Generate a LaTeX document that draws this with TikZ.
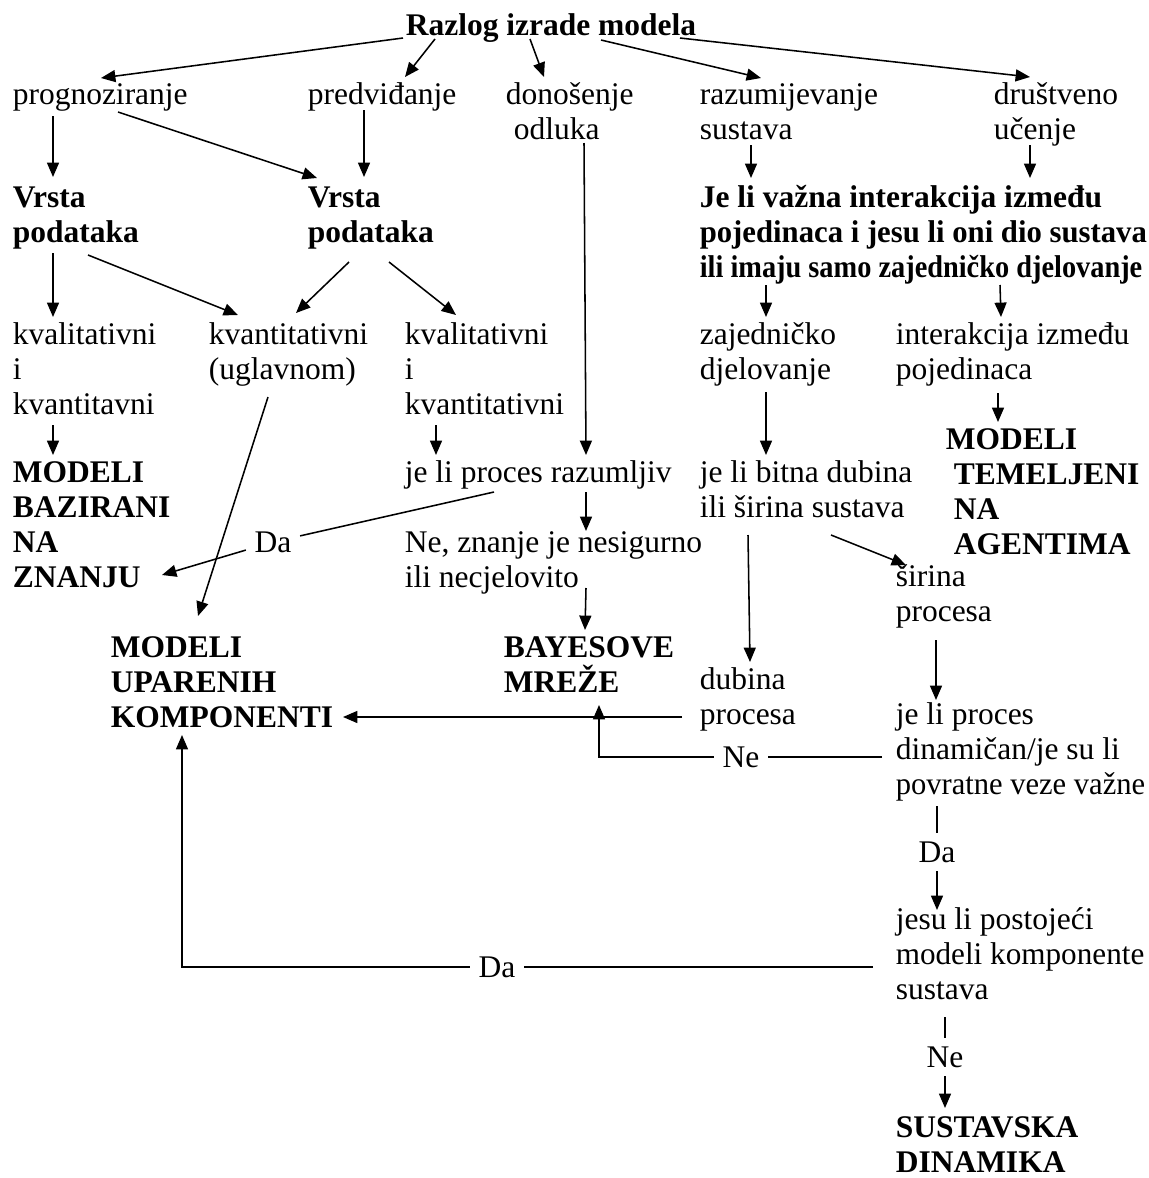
\documentclass[tikz,border=0pt]{standalone}
\usepackage{graphicx}
\usepackage{fontspec}
\setmainfont{Liberation Serif}
\usetikzlibrary{arrows.meta,calc}
\newcommand{\squeezed}[2]{\scalebox{#1}[1]{#2}}

\begin{document}
\begin{tikzpicture}[x=0.025cm,y=-0.025cm,->,>={Triangle[length=0.36cm,width=0.3cm]},
  line width=1.1pt,
  text node/.style={anchor=base west,inner sep=0pt,text width=15cm,align=flush left,font=\fontsize{22.4}{24.9}\selectfont},
  bold node/.style={text node,font=\fontsize{22.4}{24.9}\selectfont\bfseries},
  answer node/.style={inner sep=0.2cm,font=\fontsize{22.4}{24.9}\selectfont}]
  \useasboundingbox (0,0) rectangle (1149,1178);
  \node[bold node] (razlog) at (405,35) {Razlog izrade modela};
  \node[text node] (prog) at (12,104) {prognoziranje};
  \node[text node] (pred) at (307,104) {predviđanje};
  \node[text node] (donos) at (505,104) {donošenje\\\hspace*{0.2cm}odluka};
  \node[text node] (razum) at (699,104) {razumijevanje\\sustava};
  \node[text node] (drust) at (993,104) {društveno\\učenje};
  \node[bold node] (vrsta1) at (12,207) {Vrsta\\podataka};
  \node[bold node] (vrsta2) at (307,207) {Vrsta\\podataka};
  \node[bold node] (vazna) at (699,207) {Je li važna interakcija između\\\squeezed{0.975}{pojedinaca i jesu li oni dio sustava}\\\squeezed{0.9}{ili imaju samo zajedničko djelovanje}};
  \node[text node] (kval1) at (12,344) {kvalitativni\\i\\kvantitavni};
  \node[text node] (kvant) at (208,344) {kvantitativni\\(uglavnom)};
  \node[text node] (kval2) at (404,344) {kvalitativni\\i\\kvantitativni};
  \node[text node] (zajed) at (699,344) {zajedničko\\djelovanje};
  \node[text node] (inter) at (895,344) {interakcija između\\pojedinaca};
  \node[bold node] (magent) at (945,449) {MODELI\\\hspace*{0.2cm}TEMELJENI\\\hspace*{0.2cm}NA\\\hspace*{0.2cm}AGENTIMA};
  \node[bold node] (mbaz) at (12,482) {MODELI\\BAZIRANI\\NA\\ZNANJU};
  \node[text node] (razumlj) at (404,482) {je li proces razumljiv};
  \node[text node] (bitna) at (699,482) {je li bitna dubina\\ili širina sustava};
  \node[text node] (neznanje) at (404,552) {Ne, znanje je nesigurno\\ili necjelovito};
  \node[text node] (sirina) at (895,586) {širina\\procesa};
  \node[bold node] (mupar) at (110,657) {MODELI\\UPARENIH\\KOMPONENTI};
  \node[bold node] (bayes) at (503,657) {BAYESOVE\\MREŽE};
  \node[text node] (dubina) at (699,689) {dubina\\procesa};
  \node[text node] (dinam) at (895,724) {je li proces\\dinamičan/je su li\\\squeezed{0.97}{povratne veze važne}};
  \node[text node] (postoj) at (895,929) {jesu li postojeći\\\squeezed{0.99}{modeli komponente}\\sustava};
  \node[bold node] (sdin) at (895,1137) {SUSTAVSKA\\DINAMIKA};
  \node[answer node] (da1) at (273,542) {Da};
  \node[answer node] (ne1) at (741,757) {Ne};
  \node[answer node] (da2) at (937,852) {Da};
  \node[answer node] (da3) at (497,967) {Da};
  \node[answer node] (ne2) at (945,1057) {Ne};
  \path
    ($(razlog.base west)+(-2,3)$) edge ($(prog.base west)+(89,-26)$)
    ($(razlog.base west)+(30,4)$) edge ($(pred.base west)+(98,-27)$)
    ($(razlog.base west)+(125,4)$) edge ($(donos.base west)+(39,-27)$)
    ($(razlog.base west)+(196,5)$) edge ($(razum.base west)+(62,-26)$)
    ($(razlog.base west)+(275,3)$) edge ($(drust.base west)+(37,-27)$)
    ($(prog.base west)+(41,12)$) edge ($(vrsta1.base west)+(41,-30)$)
    ($(prog.base west)+(106,8)$) edge ($(vrsta2.base west)+(10,-29)$)
    ($(pred.base west)+(57,6)$) edge ($(vrsta2.base west)+(57,-30)$)
    ($(vrsta1.base west)+(41,46)$) edge ($(kval1.base west)+(41,-27)$)
    ($(vrsta1.base west)+(76,48)$) edge ($(kvant.base west)+(30,-29)$)
    ($(vrsta2.base west)+(42,55)$) edge ($(kvant.base west)+(88,-31)$)
    ($(vrsta2.base west)+(82,55)$) edge ($(kval2.base west)+(52,-29)$)
    ($(donos.base west)+(79,39)$) edge ($(razumlj.base west)+(182,-27)$)
    ($(kvant.base west)+(60,53)$) edge ($(mupar.base west)+(88,-41)$)
    ($(kval1.base west)+(41,81)$) edge ($(mbaz.base west)+(41,-27)$)
    ($(kval2.base west)+(32,81)$) edge ($(razumlj.base west)+(32,-27)$)
    ($(razumlj.base west)+(182,10)$) edge ($(neznanje.base west)+(182,-21)$)
    ($(neznanje.base west)+(182,36)$) edge ($(bayes.base west)+(82,-27)$)
    ($(razum.base west)+(52,41)$) edge ($(vazna.base west)+(52,-29)$)
    ($(drust.base west)+(37,41)$) edge ($(vazna.base west)+(331,-29)$)
    ($(vazna.base west)+(67,78)$) edge ($(zajed.base west)+(67,-27)$)
    ($(vazna.base west)+(301,78)$) edge ($(inter.base west)+(106,-27)$)
    ($(zajed.base west)+(67,48)$) edge ($(bitna.base west)+(67,-27)$)
    ($(inter.base west)+(103,49)$) edge ($(magent.base west)+(53,-27)$)
    ($(bitna.base west)+(49,53)$) edge ($(dubina.base west)+(51,-27)$)
    ($(bitna.base west)+(132,53)$) edge ($(sirina.base west)+(11,-21)$)
    ($(sirina.base west)+(41,54)$) edge ($(dinam.base west)+(41,-24)$)
    ($(dubina.base west)+(-17,28)$) edge ($(mupar.base west)+(233,60)$);
  \draw[-] ($(razumlj.base west)+(90,10)$) -- (da1);
  \draw (da1) -- ($(mbaz.base west)+(150,93)$);
  \draw[-] ($(dinam.base west)+(-13,33)$) -- (ne1);
  \draw (ne1) -| ($(bayes.base west)+(96,48)$);
  \draw[-] ($(dinam.base west)+(42,82)$) -- (da2);
  \draw (da2) -- ($(postoj.base west)+(42,-19)$);
  \draw[-] ($(postoj.base west)+(-22,38)$) -- (da3);
  \draw (da3) -| ($(mupar.base west)+(72,78)$);
  \draw[-] ($(postoj.base west)+(50,88)$) -- (ne2);
  \draw (ne2) -- ($(sdin.base west)+(50,-29)$);
\end{tikzpicture}
\end{document}
